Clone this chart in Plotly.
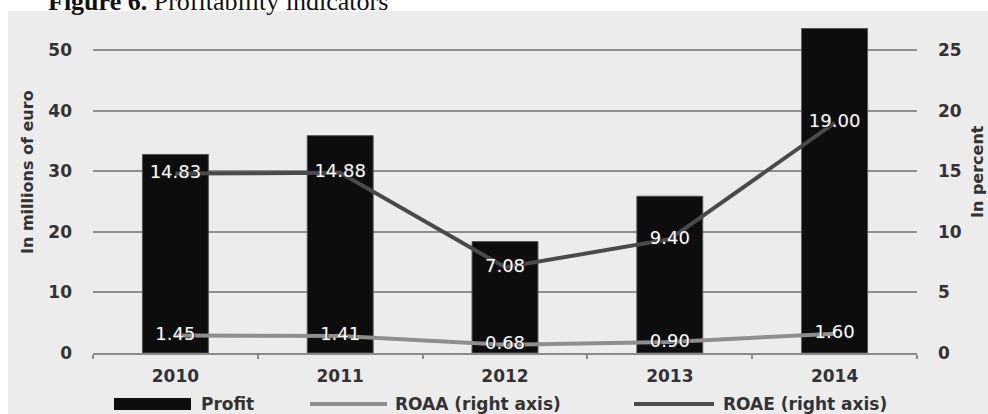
import plotly.graph_objects as go

years = ["2010", "2011", "2012", "2013", "2014"]
profit = [32.8, 35.9, 18.4, 25.9, 53.6]
roaa = [1.45, 1.41, 0.68, 0.90, 1.60]
roae = [14.83, 14.88, 7.08, 9.40, 19.00]

W, H = 988, 414
L, R, T, B = 93, 71, 20, 61
PW, PH = W - L - R, H - T - B

def px(x):
    return (x - L) / PW

def py(y):
    return (H - B - y) / PH

FONT = "DejaVu Sans, Arial, sans-serif"
TXT = "#333333"

fig = go.Figure()
fig.add_trace(go.Bar(x=years, y=profit, name="Profit", marker=dict(color="#0d0d0d", line=dict(color="#555", width=1)),
                     width=0.4, showlegend=False, hoverinfo="y"))
fig.add_trace(go.Scatter(x=years, y=roaa, name="ROAA (right axis)", yaxis="y2", mode="lines+text",
                         line=dict(color="#8e8e8e", width=4), texttemplate="%{y:.2f}", textposition="middle center",
                         textfont=dict(color="white", size=18, family=FONT, shadow="1px 1px 1px #222"), showlegend=False))
fig.add_trace(go.Scatter(x=years, y=roae, name="ROAE (right axis)", yaxis="y2", mode="lines+text",
                         line=dict(color="#4a4a4a", width=4), texttemplate="%{y:.2f}", textposition="middle center",
                         textfont=dict(color="white", size=18, family=FONT, shadow="1px 1px 1px #222"), showlegend=False))

shapes = [
    dict(type="rect", xref="paper", yref="paper", x0=px(8), x1=px(990), y0=py(420), y1=py(11),
         fillcolor="#ececec", line=dict(width=0), layer="below"),
    # legend
    dict(type="rect", xref="paper", yref="paper", x0=px(114), x1=px(191), y0=py(410), y1=py(398),
         fillcolor="#0d0d0d", line=dict(width=0)),
    dict(type="line", xref="paper", yref="paper", x0=px(310), x1=px(387), y0=py(404), y1=py(404),
         line=dict(color="#8e8e8e", width=4)),
    dict(type="line", xref="paper", yref="paper", x0=px(634), x1=px(714), y0=py(404), y1=py(404),
         line=dict(color="#4a4a4a", width=4)),
]

annotations = [
    dict(text="<b>Figure 6.</b> Profitability indicators", xref="paper", yref="paper", x=px(46), y=py(1),
         xanchor="left", yanchor="middle", showarrow=False,
         font=dict(family="Liberation Serif, Times New Roman, serif", size=26, color="#111")),
    dict(text="<b>In millions of euro</b>", xref="paper", yref="paper", x=px(27), y=py(172), textangle=-90,
         xanchor="center", yanchor="middle", showarrow=False, font=dict(family=FONT, size=16, color=TXT)),
    dict(text="<b>In percent</b>", xref="paper", yref="paper", x=px(977), y=py(172), textangle=-90,
         xanchor="center", yanchor="middle", showarrow=False, font=dict(family=FONT, size=16, color=TXT)),
    dict(text="<b>Profit</b>", xref="paper", yref="paper", x=px(199), y=py(404), xanchor="left", yanchor="middle",
         showarrow=False, font=dict(family=FONT, size=17, color=TXT)),
    dict(text="<b>ROAA (right axis)</b>", xref="paper", yref="paper", x=px(393), y=py(404), xanchor="left", yanchor="middle",
         showarrow=False, font=dict(family=FONT, size=17, color=TXT)),
    dict(text="<b>ROAE (right axis)</b>", xref="paper", yref="paper", x=px(721), y=py(404), xanchor="left", yanchor="middle",
         showarrow=False, font=dict(family=FONT, size=17, color=TXT)),
]

TICKFONT = dict(size=17, color=TXT, family=FONT, weight="bold")

fig.update_layout(
    width=W, height=H,
    margin=dict(l=L, r=R, t=T, b=B, autoexpand=False),
    paper_bgcolor="white", plot_bgcolor="rgba(0,0,0,0)",
    font=dict(family=FONT, size=17, color=TXT),
    shapes=shapes, annotations=annotations,
    xaxis=dict(type="category", categoryorder="array", categoryarray=years, tickson="boundaries",
               ticks="outside", ticklen=4, tickcolor="#8a8a8a", tickwidth=1.5, showline=True,
               linecolor="#8a8a8a", linewidth=1.5, showgrid=False, ticklabelstandoff=7, tickfont=TICKFONT),
    yaxis=dict(range=[0, 55], tickvals=[0, 10, 20, 30, 40, 50], showgrid=True, gridcolor="#8f8f8f", gridwidth=1.5,
               zeroline=False, showline=False, ticks="", ticklabelstandoff=20, tickfont=TICKFONT),
    yaxis2=dict(range=[0, 27.5], tickvals=[0, 5, 10, 15, 20, 25], overlaying="y", side="right", showgrid=False,
                zeroline=False, showline=False, ticks="", ticklabelstandoff=20, tickfont=TICKFONT),
)

fig.write_html("out.html", config={"displayModeBar": False},
               post_script="document.body.style.margin='0';document.body.style.padding='0';")
